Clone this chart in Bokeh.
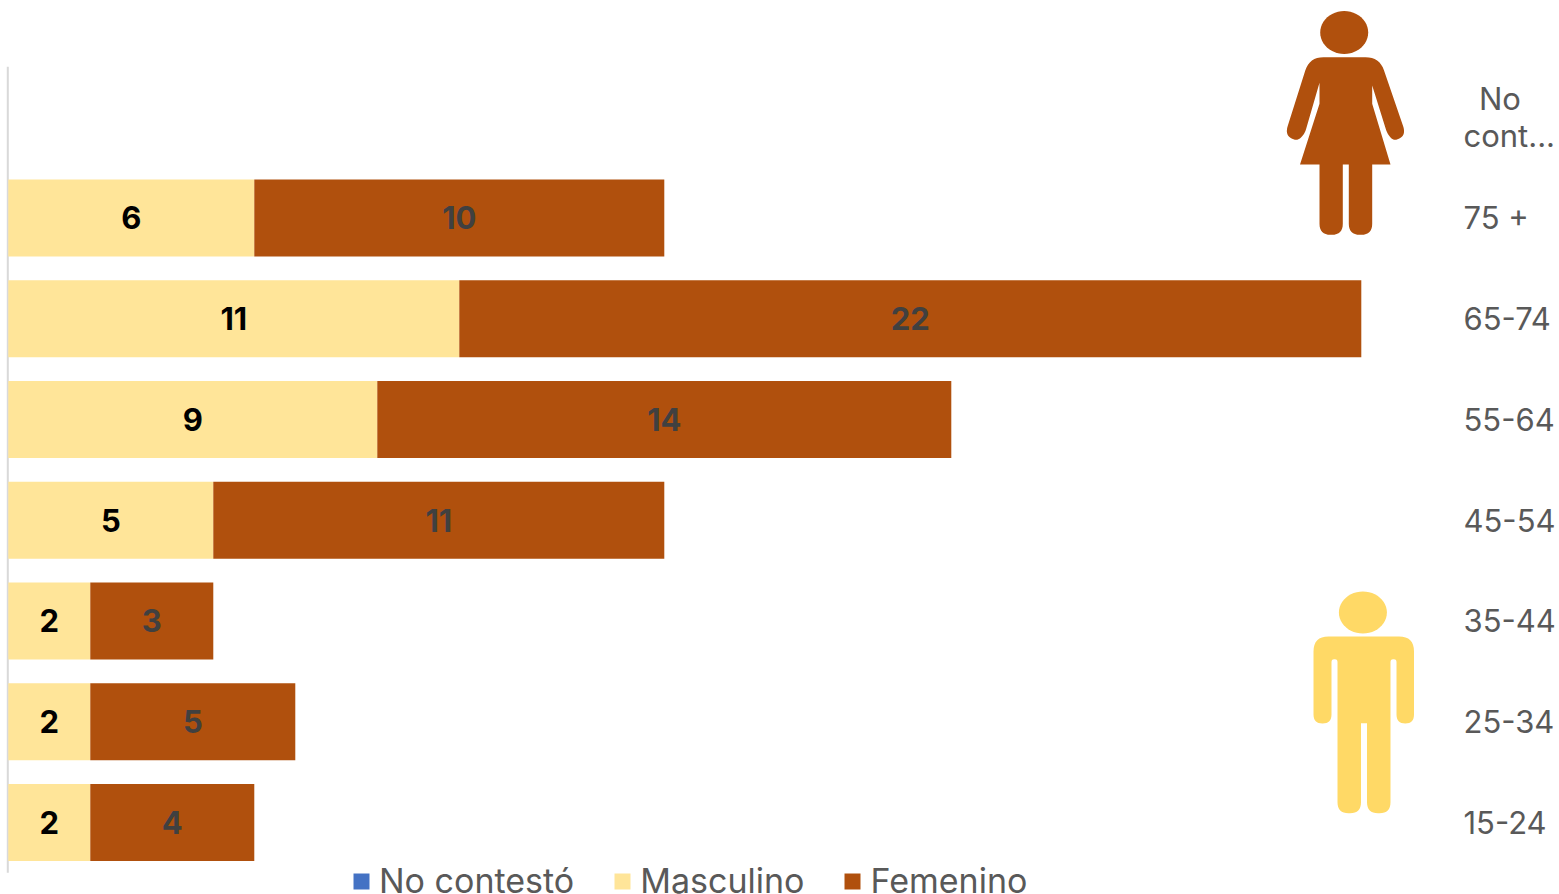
from math import cos, sin, pi, hypot
from bokeh.plotting import figure
from bokeh.models import (ColumnDataSource, FixedTicker, Range1d, Legend, LegendItem,
                          PolyAnnotation)
from bokeh.core.properties import value
from bokeh.embed import file_html
from bokeh.resources import INLINE

categories = ["15-24", "25-34", "35-44", "45-54", "55-64", "65-74", "75 +", "\u2002No\ncont..."]
masculino = [2, 2, 2, 5, 9, 11, 6, 0]
femenino = [4, 5, 3, 11, 14, 22, 10, 0]
no_contesto = [0, 0, 0, 0, 0, 0, 0, 0]

FONT = "Inter"
C_M, C_F, C_N = "#FFE599", "#B0500D", "#4472C4"
C_MAN = "#FFD966"
positions = list(range(len(categories)))

p = figure(width=1559, height=894, output_backend="svg", toolbar_location=None,
           y_range=Range1d(-0.715, 8.158),
           x_range=Range1d(-0.19, 35.2), y_axis_location="right",
           min_border_left=0, min_border_right=108, min_border_top=0, min_border_bottom=0,
           outline_line_color=None, background_fill_color="white")
p.grid.visible = False
p.xaxis.visible = False
ax = p.yaxis[0]
ax.ticker = FixedTicker(ticks=positions)
ax.major_label_overrides = dict(zip(positions, categories))
ax.axis_line_color = None
ax.major_tick_line_color = None
ax.minor_tick_line_color = None
ax.major_label_text_font = FONT
ax.major_label_text_font_size = "31px"
ax.major_label_text_color = "#595959"
ax.major_label_text_line_height = 1.0
ax.major_label_standoff = 6

src = ColumnDataSource(dict(
    pos=positions, m=masculino, f=femenino, n=no_contesto,
    f_end=[a + b for a, b in zip(masculino, femenino)],
    zero=[0] * len(categories),
))
# vertical category axis line, along the category bands only
p.segment(x0=[-0.012], x1=[-0.012], y0=[positions[0] - 0.5], y1=[positions[-1] + 0.5],
          line_color="#D9D9D9", line_width=2)

r_n = p.hbar(y="pos", left="zero", right="n", height=0.765, fill_color=C_N, line_color=None, source=src)
r_m = p.hbar(y="pos", left="zero", right="m", height=0.765, fill_color=C_M, line_color=None, source=src)
r_f = p.hbar(y="pos", left="m", right="f_end", height=0.765, fill_color=C_F, line_color=None, source=src)

idx = [i for i, v in enumerate(masculino) if v > 0]
lab = ColumnDataSource(dict(
    pos=idx,
    xm=[masculino[i] / 2 for i in idx],
    xf=[masculino[i] + femenino[i] / 2 for i in idx],
    tm=[str(masculino[i]) for i in idx],
    tf=[str(femenino[i]) for i in idx],
))
for xc, tc, col in (("xm", "tm", "#000000"), ("xf", "tf", "#404040")):
    p.text(x=xc, y="pos", text=tc, source=lab, text_color=col, text_align="center",
           text_baseline="middle", text_font=value(FONT), text_font_style="bold",
           text_font_size="31px")

legend = Legend(items=[LegendItem(label="No contestó", renderers=[r_n]),
                       LegendItem(label="Masculino", renderers=[r_m]),
                       LegendItem(label="Femenino", renderers=[r_f])],
                orientation="horizontal", location=(351, -7),
                border_line_color=None, background_fill_alpha=0,
                label_text_font=FONT, label_text_font_size="34px", label_text_color="#595959",
                glyph_width=20, glyph_height=20, label_standoff=8, spacing=38,
                padding=0, margin=0, label_height=20)
p.add_layout(legend, "center")


def rounded(pts, n=8):
    """Outline through (x, y, corner radius) vertices, in page pixels."""
    out = []
    m = len(pts)
    for i, (x, y, r) in enumerate(pts):
        if r == 0:
            out.append((x, y))
            continue
        x0, y0, _ = pts[i - 1]
        x1, y1, _ = pts[(i + 1) % m]
        d0, d1 = hypot(x0 - x, y0 - y), hypot(x1 - x, y1 - y)
        ax_, ay_ = x + (x0 - x) * min(r / d0, .5), y + (y0 - y) * min(r / d0, .5)
        bx, by = x + (x1 - x) * min(r / d1, .5), y + (y1 - y) * min(r / d1, .5)
        for k in range(n + 1):
            t = k / n
            out.append(((1 - t) ** 2 * ax_ + 2 * t * (1 - t) * x + t ** 2 * bx,
                        (1 - t) ** 2 * ay_ + 2 * t * (1 - t) * y + t ** 2 * by))
    return out


def icon(points, color):
    p.add_layout(PolyAnnotation(xs=[a for a, _ in points], ys=[b for _, b in points],
                                xs_units="canvas", ys_units="canvas", fill_color=color, fill_alpha=1,
                                line_color=color, line_alpha=0, level="overlay", editable=False))


def head(cx, cy, rx, ry):
    return [(cx + rx * cos(2 * pi * k / 48), cy + ry * sin(2 * pi * k / 48)) for k in range(48)]


icon(head(1343.7, 32, 24, 21.5), C_F)
icon(rounded([(1309, 56.7, 14), (1379, 56.7, 14), (1405.5, 134, 9), (1394, 141, 9), (1387, 134, 6),
              (1371.7, 85, 0), (1371.7, 103.3, 0), (1390, 164, 0), (1371.7, 164, 0),
              (1371.7, 234.3, 11), (1348.3, 234.3, 11), (1348.3, 164, 0), (1342.3, 164, 0),
              (1342.3, 234.3, 11), (1319, 234.3, 11), (1319, 164, 0), (1299.5, 164, 0),
              (1319, 103.3, 0), (1319, 82.3, 0), (1304, 134, 6), (1296, 141, 9), (1284.5, 134, 9)]), C_F)

icon(head(1362.4, 612, 24, 21), C_MAN)
icon(rounded([(1313, 636, 15), (1413.5, 636, 15), (1413.5, 723, 9), (1396, 723, 9),
              (1396, 658.7, 3), (1390, 658.7, 3), (1390, 812.7, 11), (1366.5, 812.7, 11),
              (1366.5, 722.7, 0), (1360.5, 722.7, 0), (1360.5, 812.7, 11), (1337, 812.7, 11),
              (1337, 658.7, 3), (1331, 658.7, 3), (1331, 723, 9), (1313, 723, 9)]), C_MAN)

open("out.html", "w").write(file_html(p, INLINE))
